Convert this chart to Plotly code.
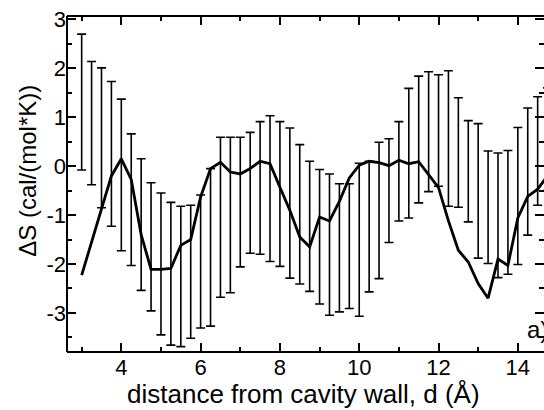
import plotly.graph_objects as go

# distance from the cavity wall (Å)
distance = [3.0, 3.25, 3.5, 3.75, 4.0, 4.25, 4.5, 4.75, 5.0, 5.25, 5.5, 5.75,
            6.0, 6.25, 6.5, 6.75, 7.0, 7.25, 7.5, 7.75, 8.0, 8.25, 8.5, 8.75,
            9.0, 9.25, 9.5, 9.75, 10.0, 10.25, 10.5, 10.75, 11.0, 11.25, 11.5, 11.75,
            12.0, 12.25, 12.5, 12.75, 13.0, 13.25, 13.5, 13.75, 14.0, 14.25, 14.5, 14.75]

# entropy change, cal/(mol*K)
delta_s = [-2.23, -1.55, -0.88, -0.20, 0.15, -0.27, -1.40, -2.11, -2.11, -2.09, -1.62, -1.50,
           -0.63, -0.05, 0.08, -0.12, -0.16, -0.05, 0.10, 0.05, -0.43, -0.90, -1.45, -1.65,
           -1.04, -1.12, -0.72, -0.24, 0.02, 0.10, 0.07, 0.01, 0.12, 0.05, 0.09, -0.18,
           -0.44, -1.12, -1.72, -1.96, -2.40, -2.70, -1.90, -2.03, -1.06, -0.62, -0.47, -0.20]

# upper and lower ends of the uncertainty bars
bar_top = [2.70, 2.14, 2.01, 1.73, 1.37, 0.66, 0.15, -0.34, -0.55, -0.74, -0.82, -0.80,
           -0.59, -0.05, 0.59, 0.59, 0.59, 0.69, 0.91, 1.03, 0.91, 0.78, 0.44, 0.10,
           -0.07, -0.16, -0.36, -0.36, 0.06, 0.10, 0.49, 0.56, 0.91, 1.59, 1.84, 1.93,
           1.87, 1.95, 1.40, 0.93, 0.87, 0.31, 0.27, 0.32, 0.79, 1.19, 1.42, 1.60]
bar_bottom = [-0.08, -0.38, -0.85, -1.23, -1.73, -2.03, -2.54, -2.96, -3.45, -3.66, -3.69, -3.52,
              -3.31, -3.27, -2.68, -2.59, -2.06, -1.78, -1.80, -1.95, -2.05, -2.29, -2.41, -2.56,
              -2.82, -3.05, -2.98, -2.91, -3.07, -2.57, -2.30, -1.56, -1.12, -1.06, -0.75, -0.52,
              -0.41, -0.82, -0.84, -1.14, -1.88, -1.99, -2.28, -2.21, -2.01, -1.41, -0.80, -0.50]

# axis ticks
x_ticks = [4, 6, 8, 10, 12, 14]
x_minor = [3, 5, 7, 9, 11, 13]
y_ticks = [-3, -2, -1, 0, 1, 2, 3]
y_tick_text = ["-3", "-2", "-1", "0", "1", "2", "3"]
y_minor = [-3.5, -2.5, -1.5, -0.5, 0.5, 1.5, 2.5]

bar_mid = [(t + b) / 2 for t, b in zip(bar_top, bar_bottom)]
bar_half = [(t - b) / 2 for t, b in zip(bar_top, bar_bottom)]

FONT = "Liberation Sans, Arial, sans-serif"

fig = go.Figure()

fig.add_trace(go.Scatter(
    x=distance, y=bar_mid, mode="markers",
    marker=dict(size=1, color="rgba(0,0,0,0)"),
    error_y=dict(type="data", array=bar_half, symmetric=True,
                 color="black", thickness=1.6, width=4.5),
    showlegend=False, hoverinfo="skip",
))

fig.add_trace(go.Scatter(
    x=distance, y=delta_s, mode="lines",
    line=dict(color="black", width=2.8),
    showlegend=False,
))

axis_common = dict(
    ticks="inside", ticklen=9, tickwidth=1.6, tickcolor="black",
    showline=False, mirror="ticks", showgrid=False, zeroline=False,
    tickfont=dict(family=FONT, size=22, color="black"),
)

fig.update_xaxes(
    range=[2.63, 14.66], tickmode="array", tickvals=x_ticks,
    minor=dict(tickvals=x_minor, ticklen=5, tickwidth=1.6,
               tickcolor="black", ticks="inside"),
    **axis_common,
)
fig.update_yaxes(
    range=[-3.8, 3.07], tickmode="array", tickvals=y_ticks, ticktext=y_tick_text,
    minor=dict(tickvals=y_minor, ticklen=5,
               tickwidth=1.6, tickcolor="black", ticks="inside"),
    **axis_common,
)

# frame on the left, top and bottom sides
for x0, y0, x1, y1 in [(0, 0, 0, 1), (0, 1, 1, 1), (0, 0, 1, 0)]:
    fig.add_shape(type="line", xref="paper", yref="paper",
                  x0=x0, y0=y0, x1=x1, y1=y1, line=dict(color="black", width=2))

# axis titles
fig.add_annotation(
    x=0.495, y=-0.124, xref="paper", yref="paper",
    text="distance from cavity wall, d (Å)", showarrow=False,
    xanchor="center", yanchor="middle",
    font=dict(family=FONT, size=26, color="black"),
)
fig.add_annotation(
    x=-0.082, y=0.539, xref="paper", yref="paper",
    text="ΔS (cal/(mol*K))", showarrow=False, textangle=-90,
    xanchor="center", yanchor="middle",
    font=dict(family=FONT, size=24, color="black"),
)

fig.add_annotation(
    x=14.17, y=-3.66, xref="x", yref="y", text="a)", showarrow=False,
    xanchor="left", yanchor="bottom",
    font=dict(family=FONT, size=24, color="black"),
)

fig.update_layout(
    width=544, height=410,
    margin=dict(l=67, r=0, t=16, b=58),
    plot_bgcolor="white", paper_bgcolor="white",
    font=dict(family=FONT, color="black"),
)

fig.write_html("out.html")
